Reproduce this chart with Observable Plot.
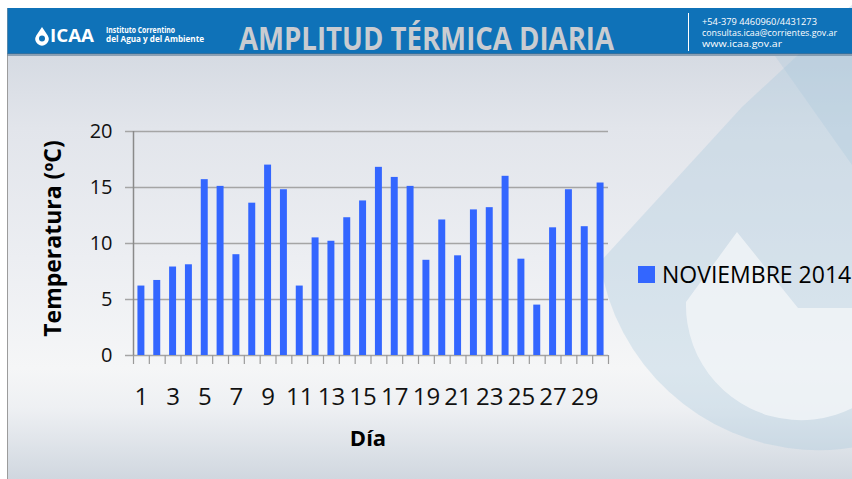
<!DOCTYPE html>
<html>
<head>
<meta charset="utf-8">
<script src="https://cdn.jsdelivr.net/npm/d3@7"></script>
<script src="https://cdn.jsdelivr.net/npm/@observablehq/plot@0.6"></script>
<style>
  html, body { margin: 0; padding: 0; background: #fff; }
  #page { position: relative; width: 852px; height: 479px; overflow: hidden; background: #fff; font-family: 'Open Sans', sans-serif; }
  #slide { position: absolute; left: 7px; top: 8px; width: 845px; height: 471px;
    border-left: 1px solid #9c9c9c;
    background: linear-gradient(180deg, #cdd3dd 0px, #d6dbe3 50px, #e2e5eb 120px, #eceef2 250px, #f5f6f7 360px, #eef0f3 400px, #dde2e8 440px, #d0d7df 471px); }
  #water { position: absolute; left: 0; top: 0; }
  #header { position: absolute; left: 0; top: 0; }
  #chart { position: absolute; left: 0; top: 56px; }
  #legend { position: absolute; left: 638px; top: 258px; white-space: nowrap; font-size: 23px; color: #000; display: flex; align-items: center; }
  #legend .sw { width: 17px; height: 17px; background: #3366ff; margin-right: 7px; }
</style>
</head>
<body>
<div id="page">
  <div id="slide"></div>
  <svg id="water" width="852" height="479">
    <path d="M775,56 L852,165 L852,56 Z" fill="#a9c6da" fill-opacity="0.3"/>
    <path d="M742,107 L600,262 A221,221 0 0 0 1031,290 L900,-40 Z" fill="#aac8dc" fill-opacity="0.35"/>
    <path d="M737,232 L686,302 A115,115 0 0 0 915,320 L915,308 L798,308 Z" fill="#f6f8fa" fill-opacity="0.7"/>
  </svg>
  <svg id="header" width="852" height="56">
    <rect x="7.5" y="8" width="845" height="46" fill="#0f72b8"/>
    <rect x="7.5" y="53" width="845" height="3" fill="#4f6f8d" fill-opacity="0.55"/>
    <path d="M42,27 L36.3,35.5 A6.6,6.6 0 1 0 47.7,35.5 Z" fill="#fff"/>
    <circle cx="42" cy="38.5" r="3" fill="#0f72b8"/>
    <text x="50" y="42" font-size="18" font-weight="bold" fill="#fff" textLength="44" lengthAdjust="spacingAndGlyphs" font-family="Open Sans">ICAA</text>
    <text x="106" y="33" font-size="8" font-weight="bold" fill="#fff" textLength="69" lengthAdjust="spacingAndGlyphs" font-family="Open Sans">Instituto Correntino</text>
    <text x="106" y="41.5" font-size="8" font-weight="bold" fill="#fff" textLength="98" lengthAdjust="spacingAndGlyphs" font-family="Open Sans">del Agua y del Ambiente</text>
    <text x="239" y="50" font-size="32" font-weight="bold" fill="#c9ccd1" textLength="375" lengthAdjust="spacingAndGlyphs" font-family="Open Sans">AMPLITUD TÉRMICA DIARIA</text>
    <line x1="688.5" y1="13" x2="688.5" y2="51" stroke="#fff" stroke-width="1"/>
    <text x="702" y="25" font-size="9" fill="#fff" textLength="115" lengthAdjust="spacingAndGlyphs" font-family="Open Sans">+54-379 4460960/4431273</text>
    <text x="702" y="36" font-size="9" fill="#fff" textLength="135" lengthAdjust="spacingAndGlyphs" font-family="Open Sans">consultas.icaa@corrientes.gov.ar</text>
    <text x="702" y="47" font-size="9" fill="#fff" textLength="80" lengthAdjust="spacingAndGlyphs" font-family="Open Sans">www.icaa.gov.ar</text>
  </svg>
  <div id="chart"></div>
  <div id="legend"><span class="sw"></span><span>NOVIEMBRE 2014</span></div>
</div>
<script>
// Data
const days = [1,2,3,4,5,6,7,8,9,10,11,12,13,14,15,16,17,18,19,20,21,22,23,24,25,26,27,28,29,30];
const amplitudes = [6.2, 6.7, 7.9, 8.1, 15.7, 15.1, 9.0, 13.6, 17.0, 14.8,
                    6.2, 10.5, 10.2, 12.3, 13.8, 16.8, 15.9, 15.1, 8.5, 12.1,
                    8.9, 13.0, 13.2, 16.0, 8.6, 4.5, 11.4, 14.8, 11.5, 15.4];
const xTickLabels = [1,3,5,7,9,11,13,15,17,19,21,23,25,27,29];
const yTicks = [0,5,10,15,20];
const seriesName = "NOVIEMBRE 2014";
const xTitle = "Día";
const yTitle = "Temperatura (ºC)";

const data = days.map((d, i) => ({day: d, value: amplitudes[i]}));
const boundaries = days.map(d => d - 0.5).concat([days[days.length - 1] + 0.5]);

const chart = Plot.plot({
  width: 852,
  height: 423,
  marginLeft: 133,
  marginRight: 244,
  marginTop: 75,
  marginBottom: 124,
  style: {background: "transparent", fontFamily: "'Open Sans', sans-serif", color: "#111", overflow: "visible"},
  x: {type: "linear", domain: [0.5, 30.5]},
  y: {domain: [0, 20]},
  marks: [
    Plot.gridY(yTicks, {stroke: "#a5a5a5", strokeOpacity: 1, strokeWidth: 1.5}),
    Plot.axisY(yTicks, {tickSize: 8, tickPadding: 13, stroke: "#a5a5a5", strokeWidth: 1.5, fontSize: 20, label: null}),
    Plot.ruleX([0.5], {y1: 0, y2: 20, stroke: "#8a8a8a", strokeWidth: 1.5}),
    Plot.rectY(data, {x1: d => d.day - 0.22, x2: d => d.day + 0.22, y1: 0, y2: "value", fill: "#3366ff"}),
    Plot.axisX(boundaries, {tickSize: 9, stroke: "#9a9a9a", strokeWidth: 1.2, tickFormat: () => "", label: null}),
    Plot.axisX(xTickLabels, {tickSize: 0, tickPadding: 32, fontSize: 24, label: null, tickFormat: d => String(d)}),
    Plot.text([yTitle], {frameAnchor: "left", textAnchor: "middle", dx: -80, dy: -5, rotate: -90, fontSize: 23, fontWeight: "bold", fill: "#000"}),
    Plot.text([xTitle], {frameAnchor: "bottom", textAnchor: "middle", dx: -3, dy: 90, fontSize: 22, fontWeight: "bold", fill: "#000"})
  ]
});
document.getElementById("chart").appendChild(chart);
document.querySelector("#legend span:last-child").textContent = seriesName;
</script>
</body>
</html>
